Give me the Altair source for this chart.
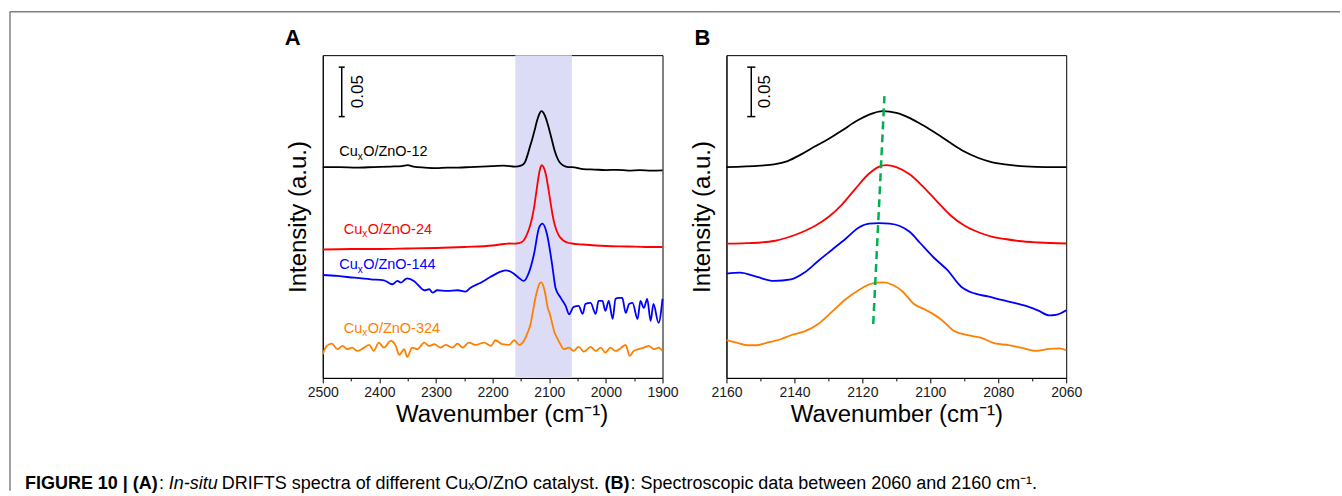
import altair as alt
import pandas as pd

FONT = "Liberation Sans"
SERIES = ["12", "24", "144", "324"]
COLORS = ["#000000", "#ff0000", "#0000ff", "#ff8000"]

# ---------------- Panel A (2500-1900 cm-1) ----------------
A_black_wn = [2500, 2470, 2440, 2410, 2380, 2360, 2350, 2340, 2320, 2300, 2280, 2260, 2240, 2220, 2200, 2180, 2160,
              2150, 2146, 2142, 2138, 2134, 2130, 2126, 2122, 2118, 2114, 2110, 2106, 2102, 2098, 2094, 2090, 2086,
              2082, 2078, 2072, 2066, 2060,
              2040, 2020, 2000, 1980, 1960, 1940, 1920, 1900]
A_black_int = [0.211, 0.211, 0.2105, 0.211, 0.2115, 0.212, 0.213, 0.2115, 0.2105, 0.210, 0.2105, 0.2105, 0.211,
               0.2115, 0.212, 0.2125, 0.2115,
               0.2125, 0.2137, 0.217, 0.2237, 0.2315, 0.239, 0.2475, 0.2565, 0.2635, 0.267, 0.2652, 0.260, 0.2525,
               0.244, 0.235, 0.2265, 0.2203, 0.216, 0.2137, 0.2117, 0.211, 0.211,
               0.209, 0.2085, 0.208, 0.2082, 0.2075, 0.208, 0.2075, 0.2077]

A_red_wn = [2500, 2450, 2400, 2350, 2300, 2250, 2200, 2180, 2170, 2160,
            2154, 2150, 2146, 2142, 2138, 2134, 2130, 2126, 2122, 2118, 2115, 2113, 2110, 2106, 2102, 2098, 2094,
            2090, 2086, 2082, 2078, 2074, 2068, 2060,
            2040, 2000, 1960, 1930, 1900]
A_red_int = [0.1285, 0.129, 0.129, 0.1295, 0.130, 0.131, 0.1325, 0.134, 0.1345, 0.1343,
             0.1348, 0.1355, 0.137, 0.1405, 0.1455, 0.152, 0.161, 0.1735, 0.1895, 0.2045, 0.2115, 0.213, 0.211,
             0.2035, 0.191, 0.1765, 0.1625, 0.1525, 0.146, 0.1415, 0.139, 0.137, 0.1355, 0.1345,
             0.1335, 0.132, 0.1315, 0.131, 0.131]

A_blue_wn = [2500, 2474, 2445, 2415, 2392, 2377, 2368, 2362, 2351, 2339, 2330, 2321, 2312, 2306, 2298, 2280, 2262,
             2248, 2239, 2221, 2204, 2186, 2177, 2165, 2154, 2145, 2136, 2127, 2118, 2112, 2104, 2095, 2089, 2080,
             2071, 2065, 2057, 2048, 2041, 2036, 2027, 2018, 2013, 2006, 2001, 1995, 1988, 1983, 1978, 1971, 1965,
             1959, 1953, 1944, 1939, 1933, 1927, 1921, 1916, 1907, 1900]
A_blue_int = [0.103, 0.102, 0.1003, 0.0987, 0.0977, 0.0937, 0.097, 0.0953, 0.0997, 0.097, 0.092, 0.0877, 0.0887,
              0.0853, 0.0877, 0.087, 0.0877, 0.0863, 0.0903, 0.0953, 0.101, 0.1063, 0.1077, 0.1053, 0.1003, 0.097,
              0.1053, 0.1237, 0.1503, 0.1543, 0.1437, 0.1137, 0.0903, 0.0803, 0.072, 0.0637, 0.071, 0.072, 0.064,
              0.074, 0.075, 0.064, 0.077, 0.077, 0.067, 0.077, 0.059, 0.079, 0.080, 0.080, 0.065, 0.074, 0.075,
              0.059, 0.077, 0.070, 0.079, 0.057, 0.074, 0.055, 0.079]

A_orange_wn = [2500, 2493, 2484, 2474, 2465, 2457, 2448, 2439, 2427, 2418, 2410, 2401, 2392, 2380, 2371, 2365, 2356,
               2351, 2342, 2333, 2321, 2312, 2303, 2292, 2283, 2271, 2262, 2253, 2242, 2230, 2215, 2203, 2195, 2183,
               2171,
               2162, 2153, 2145, 2138, 2133, 2129, 2125, 2121, 2117, 2114, 2111, 2107, 2103, 2099, 2095, 2091, 2086,
               2081, 2074,
               2065, 2057, 2048, 2039, 2027, 2018, 2009, 2001, 1992, 1983, 1974, 1965, 1958, 1951, 1942, 1933, 1924,
               1915, 1907, 1900]
A_orange_int = [0.0237, 0.032, 0.0343, 0.0287, 0.032, 0.0287, 0.0303, 0.027, 0.0303, 0.033, 0.027, 0.0353, 0.0303,
                0.037, 0.032, 0.023, 0.0287, 0.021, 0.0303, 0.0287, 0.0353, 0.032, 0.0337, 0.0303, 0.033, 0.0303,
                0.0343, 0.0303, 0.0353, 0.033, 0.0353, 0.032, 0.0377, 0.0337, 0.033,
                0.0377, 0.033, 0.037, 0.0455, 0.054, 0.066, 0.0785, 0.088, 0.0945, 0.0955, 0.093, 0.084, 0.071,
                0.064, 0.055, 0.046, 0.040, 0.0345, 0.0287,
                0.0303, 0.027, 0.031, 0.0263, 0.031, 0.027, 0.0303, 0.0253, 0.0303, 0.027, 0.0297, 0.033, 0.022,
                0.027, 0.0287, 0.0303, 0.032, 0.0287, 0.0303, 0.027]

# ---------------- Panel B (2160-2060 cm-1) ----------------
B_black_wn = [2160, 2150, 2146, 2142, 2138, 2134, 2130, 2126, 2122, 2118, 2114, 2110, 2106, 2102, 2098, 2094, 2090,
              2086, 2082, 2078, 2072, 2066, 2060]
B_black_int = [0.211, 0.2125, 0.2137, 0.217, 0.2237, 0.2315, 0.239, 0.2475, 0.2565, 0.2635, 0.267, 0.2652, 0.260,
               0.2525, 0.244, 0.235, 0.2265, 0.2203, 0.216, 0.2137, 0.2117, 0.211, 0.211]
B_red_wn = [2160, 2154, 2150, 2146, 2142, 2138, 2134, 2130, 2126, 2122, 2118, 2115, 2113, 2110, 2106, 2102, 2098,
            2094, 2090, 2086, 2082, 2078, 2074, 2068, 2060]
B_red_int = [0.1343, 0.1348, 0.1355, 0.137, 0.1405, 0.1455, 0.152, 0.161, 0.1735, 0.1895, 0.2045, 0.2115, 0.213,
             0.211, 0.2035, 0.191, 0.1765, 0.1625, 0.1525, 0.146, 0.1415, 0.139, 0.137, 0.1355, 0.1345]
B_blue_wn = [2160, 2156, 2151, 2146, 2141, 2137, 2133, 2129, 2125, 2121, 2118, 2115, 2112, 2109, 2106, 2103, 2099,
             2095, 2091, 2087, 2083, 2079, 2075, 2071, 2068, 2065, 2063, 2060]
B_blue_int = [0.1043, 0.1053, 0.101, 0.097, 0.0985, 0.1055, 0.117, 0.128, 0.139, 0.1505, 0.1543, 0.1548, 0.1543,
              0.152, 0.146, 0.135, 0.1205, 0.108, 0.0915, 0.0845, 0.0815, 0.078, 0.0748, 0.071, 0.067, 0.0625,
              0.063, 0.0677]
B_orange_wn = [2160, 2157, 2154, 2151, 2148, 2144, 2141, 2137, 2133, 2129, 2125, 2121, 2117, 2114, 2111, 2108, 2105,
               2101, 2097, 2093, 2089, 2085, 2081, 2077, 2073, 2069, 2065, 2062, 2060]
B_orange_int = [0.0377, 0.0353, 0.0327, 0.0327, 0.0353, 0.0387, 0.0427, 0.0465, 0.054, 0.066, 0.0785, 0.088,
                0.0945, 0.0955, 0.093, 0.086, 0.0745, 0.0675, 0.059, 0.047, 0.0427, 0.040, 0.0345, 0.0328, 0.030,
                0.027, 0.029, 0.0295, 0.0277]

# labels (left edge wavenumber, baseline intensity)
LABEL_WN = [2471, 2463, 2471, 2463]
LABEL_INT = [0.222, 0.1443, 0.1087, 0.0453]
LABEL_REST = ["O/ZnO-12", "O/ZnO-24", "O/ZnO-144", "O/ZnO-324"]

BAND = [2160, 2060]
PEAK_GUIDE_WN = [2113.5, 2116.8]
PEAK_GUIDE_INT = [0.282, 0.054]

W, H = 340, 323
Y_DOMAIN = [0, 0.323]
X_TITLE = "Wavenumber (cm⁻¹)"
Y_TITLE = "Intensity (a.u.)"


def long_df(parts):
    rows = []
    for s, wn, iv in parts:
        for w, v in zip(wn, iv):
            rows.append({"series": s, "wn": w, "int": v})
    return pd.DataFrame(rows)


dfA = long_df([("12", A_black_wn, A_black_int), ("24", A_red_wn, A_red_int),
               ("144", A_blue_wn, A_blue_int), ("324", A_orange_wn, A_orange_int)])
dfB = long_df([("12", B_black_wn, B_black_int), ("24", B_red_wn, B_red_int),
               ("144", B_blue_wn, B_blue_int), ("324", B_orange_wn, B_orange_int)])

color_scale = alt.Scale(domain=SERIES, range=COLORS)
yS = alt.Scale(domain=Y_DOMAIN, nice=False, zero=False)
yAxis = alt.Axis(ticks=False, labels=False, domain=True, grid=False, titlePadding=12)


def x_axis(lo, hi, minor, major, title_x):
    return alt.Axis(values=list(range(lo, hi + 1, minor)), format="d",
                    labelExpr=f"datum.value % {major} === 0 ? datum.label : ''",
                    tickSize={"condition": {"test": f"datum.value % {major} === 0", "value": 5}, "value": 3},
                    labelPadding=3, titlePadding=3, grid=False, labelOverlap=False, labelFlush=False,
                    titleX=title_x)


def txt(text, x, y, size, color="black", weight="normal", style="normal", align="left",
        baseline="middle", angle=0):
    return alt.Chart(pd.DataFrame({"t": [text]})).mark_text(
        align=align, baseline=baseline, fontSize=size, fontWeight=weight, fontStyle=style,
        color=color, angle=angle, font=FONT).encode(x=alt.value(x), y=alt.value(y), text="t:N")


def panel(df, xs, axis, bar_x, cap_dx, bar_text_x, letter, with_band):
    X = lambda f: alt.X(f, type="quantitative", scale=xs, axis=axis, title=X_TITLE)
    Y = lambda f: alt.Y(f, type="quantitative", scale=yS, axis=yAxis, title=Y_TITLE)
    layers = []
    if with_band:
        layers.append(alt.Chart(pd.DataFrame({"x1": [BAND[0]], "x2": [BAND[1]]})).mark_rect(
            color="#dcdcf7").encode(x=X("x1"), x2="x2:Q", y=alt.value(0), y2=alt.value(H)))
    layers.append(alt.Chart(df).mark_line(strokeWidth=1.8, interpolate="monotone").encode(
        x=X("wn"), y=Y("int"),
        color=alt.Color("series:N", scale=color_scale, legend=None),
        detail="series:N",
        order=alt.Order("wn:Q", sort="descending")))
    seg = pd.DataFrame({"x": [bar_x, bar_x - cap_dx, bar_x - cap_dx],
                        "x2": [bar_x, bar_x + cap_dx, bar_x + cap_dx],
                        "y": [0.311, 0.311, 0.2615], "y2": [0.2615, 0.311, 0.2615]})
    layers.append(alt.Chart(seg).mark_rule(color="black", strokeWidth=1.5).encode(
        x=X("x"), x2="x2:Q", y=Y("y"), y2="y2:Q"))
    layers.append(alt.Chart(pd.DataFrame({"x": [bar_text_x], "y": [0.2865], "t": ["0.05"]})).mark_text(
        angle=270, align="center", baseline="top", fontSize=17, font=FONT, color="black").encode(
        x=X("x"), y=Y("y"), text="t:N"))
    layers.append(txt(letter, -30 if letter == "A" else -24, -17, 22, weight="bold", align="center"))
    return layers, X, Y


xA = alt.Scale(domain=[1900, 2500], reverse=True, nice=False, zero=False)
xB = alt.Scale(domain=[2060, 2160], reverse=True, nice=False, zero=False)

layersA, XA, YA = panel(dfA, xA, x_axis(1900, 2500, 50, 100, 179), 2466.5, 5.3, 2452.4, "A", True)
layersB, XB, YB = panel(dfB, xB, x_axis(2060, 2160, 10, 20, 170), 2152.7, 1.2, 2150.9, "B", False)

# series labels in panel A: "Cu" + subscript "x" + rest
lab = pd.DataFrame({"wn": LABEL_WN, "int": LABEL_INT, "series": SERIES, "rest": LABEL_REST,
                    "cu": ["Cu"] * 4, "sub": ["x"] * 4})


def lab_layer(field, size, dx, dy):
    return alt.Chart(lab).mark_text(align="left", baseline="alphabetic", fontSize=size, font=FONT,
                                    dx=dx, dy=dy).encode(
        x=XA("wn"), y=YA("int"),
        color=alt.Color("series:N", scale=color_scale, legend=None), text=f"{field}:N")


layersA += [lab_layer("cu", 14.5, 0, 0), lab_layer("sub", 10, 18.5, 3.5), lab_layer("rest", 14.5, 24, 0)]

# green dashed guide in panel B
layersB.append(alt.Chart(pd.DataFrame({"wn": PEAK_GUIDE_WN, "int": PEAK_GUIDE_INT})).mark_line(
    color="#00b050", strokeWidth=2.5, strokeDash=[8, 5]).encode(x=XB("wn"), y=YB("int")))

# figure frame and caption (drawn in panel A pixel coordinates)
frame = pd.DataFrame({"a": [0]})
frame_top = alt.Chart(frame).mark_rule(color="#808080", strokeWidth=1.5).encode(
    x=alt.value(-313), x2=alt.value(1018), y=alt.value(-43.5))
frame_left = alt.Chart(frame).mark_rule(color="#808080", strokeWidth=1.5).encode(
    x=alt.value(-313), y=alt.value(-43.5), y2=alt.value(436))
CAP_Y = 429
CS = 18
caption = [
    txt("FIGURE 10 | (A)", 24 - 322, CAP_Y, CS, weight="bold"),
    txt(":", 158 - 322, CAP_Y, CS),
    txt("In-situ", 168 - 322, CAP_Y, CS, style="italic"),
    txt(" DRIFTS spectra of different CuₓO/ZnO catalyst.", 221 - 322, CAP_Y, CS),
    txt("(B)", 604 - 322, CAP_Y, CS, weight="bold"),
    txt(": Spectroscopic data between 2060 and 2160 cm⁻¹.", 630 - 322, CAP_Y, CS),
]
layersA += [frame_top, frame_left] + caption

chartA = alt.layer(*layersA).properties(width=W, height=H)
chartB = alt.layer(*layersB).properties(width=W, height=H)

chart = alt.hconcat(chartA, chartB, spacing=64, bounds="flush").properties(
    padding={"left": 8, "top": 10, "right": 0, "bottom": 0}
).configure_view(stroke="black", strokeWidth=1).configure_axis(
    labelFont=FONT, labelFontSize=14, labelColor="#1a1a1a", titleFont=FONT, titleFontSize=24,
    titleFontWeight="normal", titleColor="black", domainColor="black", domainWidth=1,
    tickColor="black", tickWidth=1)

chart.save("out.html", embed_options={"renderer": "svg", "actions": False})
